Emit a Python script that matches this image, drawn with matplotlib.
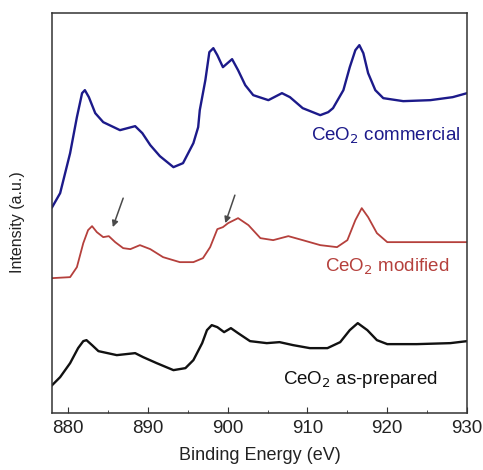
import numpy as np
import matplotlib.pyplot as plt
from matplotlib.ticker import MultipleLocator

plt.rcParams['font.family'] = ['Liberation Sans', 'DejaVu Sans']

# binding energy (eV) and intensity (a.u.)
e_comm = [878.0, 879.0, 880.25, 881.1, 881.75, 882.1, 882.6, 883.4, 884.4, 886.5, 888.4, 889.3,
          890.3, 891.5, 893.2, 894.4, 895.7, 896.3, 896.5, 897.2, 897.7, 898.2, 898.7, 899.4,
          900.55, 901.3, 902.2, 903.2, 905.1, 906.8, 907.8, 909.4, 911.6, 912.6, 913.2, 914.5,
          915.3, 916.0, 916.5, 917.0, 917.6, 918.5, 919.5, 922.0, 925.4, 928.2, 930.0]
i_comm = [206, 220, 260, 296, 320, 323, 316, 300, 291, 283, 287, 280,
          268, 257, 246, 250, 270, 286, 303, 333, 361, 365, 358, 346,
          354, 343, 328, 318, 313, 320, 316, 305, 298, 301, 305, 323,
          346, 363, 368, 360, 340, 323, 315, 312, 313, 316, 320]

e_mod = [878.0, 880.25, 881.1, 881.9, 882.5, 883.0, 883.6, 884.4, 885.1, 885.9, 886.9, 887.8,
         889.0, 890.3, 891.9, 894.0, 895.7, 896.9, 897.8, 898.7, 899.4, 900.05, 901.3, 902.6,
         904.1, 905.7, 907.6, 909.4, 911.6, 913.7, 915.0, 916.0, 916.8, 917.6, 918.7, 920.0,
         924.5, 930.0]
i_mod = [135, 136, 146, 170, 183, 187, 181, 176, 177, 171, 165, 164,
         168, 164, 156, 151, 151, 155, 166, 184, 186, 190, 195, 188,
         175, 173, 177, 173, 168, 166, 173, 193, 205, 196, 180, 171,
         171, 171]

e_prep = [878.0, 879.0, 880.25, 881.25, 881.9, 882.3, 883.0, 883.8, 886.1, 888.4, 889.4, 891.1,
          893.2, 894.7, 895.7, 896.8, 897.4, 898.0, 898.7, 899.55, 900.4, 901.3, 902.8, 904.9,
          906.5, 908.2, 910.3, 912.5, 914.1, 915.3, 916.3, 917.5, 918.7, 920.0, 923.7, 927.9,
          930.0]
i_prep = [28, 36, 50, 65, 72, 73, 68, 62, 58, 60, 56, 50,
          43, 45, 53, 70, 83, 88, 86, 81, 85, 80, 72, 70,
          71, 68, 65, 65, 71, 83, 90, 83, 73, 69, 69, 70,
          72]

labels = ['CeO$_2$ commercial', 'CeO$_2$ modified', 'CeO$_2$ as-prepared']
colors = ['#1c1a8a', '#b5403c', '#111111']

fig = plt.figure(figsize=(4.83, 4.70), dpi=100)
ax = fig.add_axes([0.108, 0.121, 0.859, 0.851])

ax.plot(e_comm, i_comm, color=colors[0], lw=1.7, solid_joinstyle='round')
ax.plot(e_mod, i_mod, color=colors[1], lw=1.3, solid_joinstyle='round')
ax.plot(e_prep, i_prep, color=colors[2], lw=1.7, solid_joinstyle='round')

ax.text(929.2, 277, labels[0], color=colors[0], fontsize=13.5, ha='right', va='center')
ax.text(927.8, 146, labels[1], color=colors[1], fontsize=13.5, ha='right', va='center')
ax.text(926.3, 34, labels[2], color=colors[2], fontsize=13.5, ha='right', va='center')

# arrows pointing at the extra shoulders
for tail, head in [((886.9, 215), (885.6, 186)), ((900.9, 218), (899.7, 190))]:
    ax.annotate('', xy=head, xytext=tail,
                arrowprops=dict(arrowstyle='-|>', color='#4a4a4a', lw=1.1,
                                mutation_scale=9, shrinkA=0, shrinkB=0))

ax.set_xlim(878, 930)
ax.set_ylim(0, 400)
ax.xaxis.set_major_locator(MultipleLocator(10))
ax.xaxis.set_minor_locator(MultipleLocator(5))
ax.set_yticks([])
ax.tick_params(axis='x', which='both', direction='in', labelsize=13.5, colors='#333333',
               labelcolor='#222222', pad=5)
ax.tick_params(axis='x', which='major', length=4)
ax.tick_params(axis='x', which='minor', length=2.5)
for s in ax.spines.values():
    s.set_color('#333333')
    s.set_linewidth(1.1)

ax.set_xlabel('Binding Energy (eV)', fontsize=13, color='#222222', labelpad=7)
ax.set_ylabel('Intensity (a.u.)', fontsize=11.5, color='#222222')
ax.yaxis.set_label_coords(-0.065, 0.478)

fig.savefig('out.png', dpi=100)
